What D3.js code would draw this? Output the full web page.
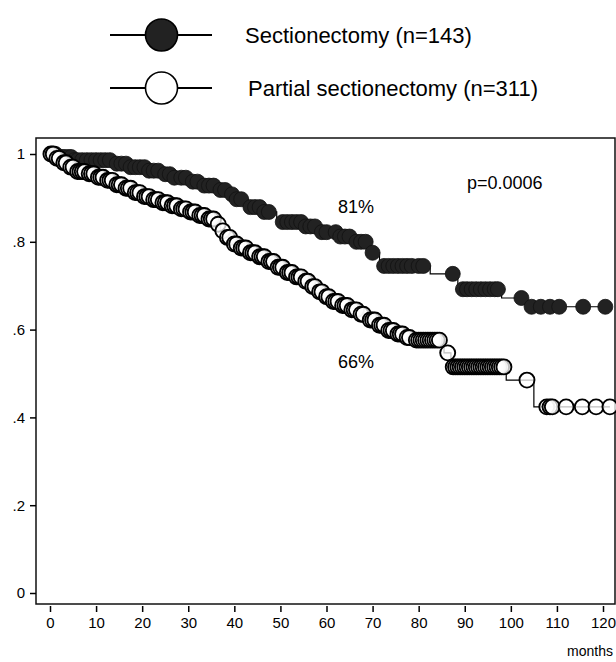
<html>
<head>
    <title>Sectionectomy survival</title>
    <script src="https://cdn.jsdelivr.net/npm/d3@7"></script>
    <style type="text/css">
        body {
            margin: 0;
            background: white;
        }
        text {
            font-family: Arial, "Liberation Sans", sans-serif;
            fill: black;
        }
        .axis path,
        .axis line {
            fill: none;
            stroke: black;
            stroke-width: 1.5;
        }
    </style>
</head>
<body>
    <div id="chart"></div>

    <script type="text/javascript">
        // KM steps: time (months) where the curve drops, and survival after the drop
        var secStepT = [0, 1.5, 5, 14, 17, 21, 24, 27, 30, 33, 36, 38.5, 40.5, 43, 46, 49.2, 55, 58, 63, 66, 69, 71.5, 82.5, 88.5, 98, 103.2];
        var secStepS = [1, .993, .986, .978, .970, .962, .954, .946, .937, .928, .918, .908, .897, .879, .868, .845, .835, .822, .812, .800, .775, .745, .727, .692, .672, .652];
        // censored patients (markers)
        var secCens = [0.3, 0.8, 1.2, 2, 2.6, 3.2, 4, 4.6, 5.3, 6, 7, 8, 9, 10, 11, 12, 13, 14.5, 15.5, 16.5, 17.5, 18.5,
            19.5, 20.5, 21.5, 22.5, 23.5, 25, 26, 27, 28.5, 29.5, 31, 32, 33.5, 34.5, 35.5, 37, 38, 39.5, 40.5, 41.5,
            43.5, 44.5, 45.5, 46.5, 47.5, 50.5, 51.5, 52.5, 53.5, 54.5, 55.5, 56.5, 57.5, 59, 60, 62, 63, 64, 65, 66.5,
            67.5, 68.5, 70, 72.5, 73.5, 74.5, 75.5, 76.5, 77.5, 78.5, 80, 81, 87.4, 89.6, 90.5, 91.5, 92.5, 93.5, 94.5,
            95.5, 96.5, 97.2, 102.3, 104.5, 106.5, 108.5, 110.5, 115.7, 120.5];

        var parStepT = [0, 1, 2.5, 4, 5.5, 8, 10, 12, 14, 16, 18, 20, 22, 24, 26, 28, 30, 32, 34, 36, 37, 38, 39.5, 41, 43,
            45, 47, 49, 51, 53, 55, 56.5, 58, 59.5, 61, 63, 65, 67, 69, 71, 73, 75, 77, 79, 85.5, 87, 99, 105];
        var parStepS = [1, .99, .98, .97, .96, .955, .947, .94, .93, .922, .912, .903, .896, .889, .882, .875, .868, .86,
            .852, .84, .825, .81, .795, .786, .775, .766, .755, .742, .73, .72, .71, .698, .686, .675, .664, .655, .645,
            .635, .622, .61, .598, .59, .582, .576, .547, .515, .485, .424];
        var parCens = [0.2, 0.7, 1.5, 2, 3, 3.5, 4.5, 5, 6, 6.5, 7, 7.5, 8.5, 9, 9.5, 10.5, 11, 11.5, 12.5, 13, 13.5, 14.5,
            15, 15.5, 16.5, 17, 17.5, 18.5, 19, 19.5, 20.5, 21, 21.5, 22.5, 23, 23.5, 24.5, 25, 25.5, 26.5, 27, 27.5,
            28.5, 29, 29.5, 30.5, 31, 31.5, 32.5, 33, 33.5, 34.5, 35, 35.5, 36.5, 37.5, 38.5, 39, 40, 40.5, 41.5, 42,
            42.5, 43.5, 44, 44.5, 45.5, 46, 46.5, 47.5, 48, 48.5, 49.5, 50, 50.5, 51.5, 52, 52.5, 53.5, 54, 54.5, 55.5,
            56, 57, 57.5, 58.5, 59, 60, 60.5, 61.5, 62, 62.5, 63.5, 64, 64.5, 65.5, 66, 66.5, 67.5, 68, 69.5, 70, 70.5,
            71.5, 72, 72.5, 73.5, 74, 74.5, 75.5, 76, 76.5, 77.5, 78, 79.5, 80, 80.5, 81, 81.5, 82, 82.5, 83, 83.5, 84,
            84.5, 86.3, 87.5, 88, 88.5, 89, 89.5, 90, 90.5, 91, 91.5, 92, 92.5, 93, 93.5, 94, 94.5, 95, 95.5, 96, 96.5,
            97, 97.5, 98, 98.5, 103.5, 107.8, 108.5, 109, 112, 115.5, 118.5, 121.5];

        var xTicks = [0, 10, 20, 30, 40, 50, 60, 70, 80, 90, 100, 110, 120];
        var yTicks = [0, .2, .4, .6, .8, 1];
        var yTickLabels = ["0", ".2", ".4", ".6", ".8", "1"];

        var w = 616;
        var h = 662;
        var endT = 121.5;

        var svg = d3.select("#chart")
            .append("svg")
            .attr("width", w)
            .attr("height", h);

        svg.append("rect")
            .attr("width", w)
            .attr("height", h)
            .attr("fill", "white");

        var xScale = d3.scaleLinear()
            .domain([0, 120])
            .range([50, 603]);
        var yScale = d3.scaleLinear()
            .domain([0, 1])
            .range([593, 154]);

        // plot frame
        svg.append("rect")
            .attr("x", 36)
            .attr("y", 138)
            .attr("width", 579)
            .attr("height", 466)
            .attr("fill", "none")
            .attr("stroke", "#111")
            .attr("stroke-width", 1.5);

        var xAxis = d3.axisBottom(xScale)
            .tickValues(xTicks)
            .tickSize(6)
            .tickPadding(5)
            .tickSizeOuter(0);
        var yAxis = d3.axisLeft(yScale)
            .tickValues(yTicks)
            .tickSize(6)
            .tickPadding(5)
            .tickSizeOuter(0)
            .tickFormat(function (d, i) {
                return yTickLabels[i];
            });

        var gx = svg.append("g")
            .attr("class", "x axis")
            .attr("transform", "translate(0,606)")
            .call(xAxis);
        gx.select(".domain").remove();
        gx.selectAll("text").attr("font-size", "15px");

        var gy = svg.append("g")
            .attr("class", "y axis")
            .attr("transform", "translate(36,0)")
            .call(yAxis);
        gy.select(".domain").remove();
        gy.selectAll("text").attr("font-size", "15px");

        svg.append("text")
            .attr("x", 613)
            .attr("y", 656)
            .attr("text-anchor", "end")
            .attr("font-size", "14px")
            .text("months");

        function survAt(stepT, stepS, t) {
            var s = 1;
            for (var i = 0; i < stepT.length; i++) {
                if (stepT[i] <= t) s = stepS[i];
            }
            return s;
        }

        var line = d3.line()
            .curve(d3.curveStepAfter)
            .x(function (d) { return xScale(d[0]); })
            .y(function (d) { return yScale(d[1]); });

        function drawGroup(stepT, stepS, cens, filled) {
            var pts = stepT.map(function (t, i) { return [t, stepS[i]]; });
            pts.push([endT, stepS[stepS.length - 1]]);
            svg.append("path")
                .datum(pts)
                .attr("d", line)
                .attr("fill", "none")
                .attr("stroke", "black")
                .attr("stroke-width", 1.2);

            svg.append("g")
                .selectAll("circle")
                .data(cens)
                .enter()
                .append("circle")
                .attr("cx", function (d) { return xScale(d); })
                .attr("cy", function (d) { return yScale(survAt(stepT, stepS, d)); })
                .attr("r", 7.5)
                .attr("fill", filled ? "#222" : "white")
                .attr("fill-opacity", filled ? 1 : 0.75)
                .attr("stroke", filled ? "#111" : "black")
                .attr("stroke-width", filled ? 0.8 : 1.9);
        }

        drawGroup(secStepT, secStepS, secCens, true);
        drawGroup(parStepT, parStepS, parCens, false);

        // annotations
        svg.append("text").attr("x", 338).attr("y", 213).attr("font-size", "18px").text("81%");
        svg.append("text").attr("x", 338).attr("y", 368).attr("font-size", "18px").text("66%");
        svg.append("text").attr("x", 467).attr("y", 189).attr("font-size", "18px").text("p=0.0006");

        // legend
        var legendNames = ["Sectionectomy (n=143)", "Partial sectionectomy (n=311)"];
        var legendY = [35, 88];
        legendNames.forEach(function (name, i) {
            var g = svg.append("g");
            g.append("line")
                .attr("x1", 110).attr("x2", 212)
                .attr("y1", legendY[i]).attr("y2", legendY[i])
                .attr("stroke", "black")
                .attr("stroke-width", 1.8);
            g.append("circle")
                .attr("cx", 161.5)
                .attr("cy", legendY[i])
                .attr("r", 16)
                .attr("fill", i == 0 ? "#222" : "white")
                .attr("stroke", "black")
                .attr("stroke-width", 1.6);
            g.append("text")
                .attr("x", i == 0 ? 245 : 248)
                .attr("y", legendY[i] + 8)
                .attr("font-size", "22px")
                .text(name);
        });
    </script>
</body>
</html>
